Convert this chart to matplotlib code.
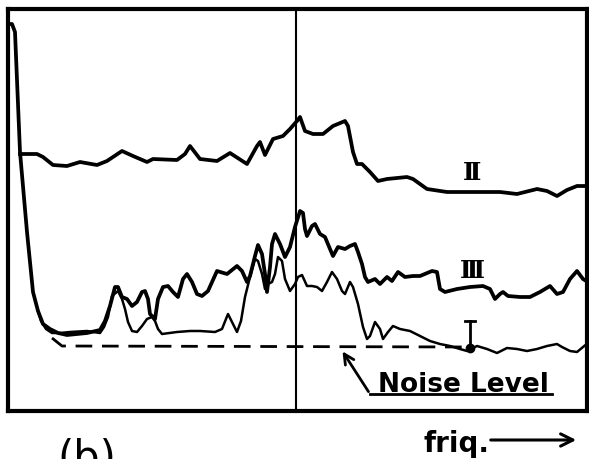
import numpy as np
import matplotlib
matplotlib.use('Agg')
import matplotlib.pyplot as plt

# common start of the sweep: the zero-frequency spike
spike_f = [1, 4, 7, 12, 19, 25, 30]
spike_a = [387, 387, 379, 259, 179, 119, 100]

# trace II (upper)
f_II = [12, 29, 35, 45, 59, 72, 89, 99, 114, 125, 139, 145, 169, 177, 182, 192, 209, 222,
        239, 249, 252, 257, 265, 275, 282, 289, 292, 297, 305, 315, 325, 337, 340, 345,
        349, 354, 362, 370, 379, 399, 405, 419, 439, 465, 492, 509, 529, 539, 549, 559,
        569, 579]
a_II = [257, 257, 254, 246, 245, 249, 246, 250, 260, 255, 249, 252, 251, 257, 265, 252, 250, 258,
        247, 265, 269, 256, 272, 275, 282, 290, 294, 280, 277, 277, 285, 290, 285, 259,
        247, 247, 239, 230, 232, 234, 232, 222, 219, 219, 219, 217, 222, 220, 215, 221,
        225, 225]

# trace III (middle)
f_III = [35, 42, 50, 59, 79, 92, 97, 102, 107, 110, 114, 119, 124, 129, 134, 137, 140, 142,
         147, 150, 155, 160, 165, 170, 175, 179, 184, 189, 194, 200, 209, 219, 229, 234,
         239, 242, 247, 250, 254, 257, 259, 262, 264, 267, 272, 277, 282, 287, 292, 295,
         297, 299, 304, 307, 312, 317, 322, 325, 330, 337, 342, 347, 350, 354, 357, 360,
         367, 372, 379, 384, 390, 397, 405, 412, 424, 429, 432, 437, 449, 462, 475, 482,
         487, 492, 495, 500, 512, 522, 532, 542, 549, 555, 562, 569, 575, 580]
a_III = [87, 82, 78, 76, 78, 81, 90, 105, 124, 124, 114, 112, 105, 109, 119, 120, 112, 97,
         92, 112, 124, 125, 119, 114, 132, 137, 129, 117, 115, 120, 140, 137, 145, 140,
         129, 135, 155, 166, 157, 137, 119, 144, 167, 177, 167, 154, 164, 184, 200, 198,
         182, 175, 185, 187, 177, 174, 162, 155, 164, 162, 165, 167, 159, 147, 134, 129,
         132, 127, 134, 130, 139, 134, 135, 135, 140, 139, 122, 119, 122, 124, 125, 122,
         112, 117, 119, 115, 114, 114, 119, 125, 117, 119, 132, 140, 132, 129]

# trace I (lowest, thin)
f_I = [30, 33, 38, 44, 52, 62, 79, 92, 96, 100, 104, 110, 114, 117, 120, 124, 129, 134,
       139, 144, 147, 150, 154, 169, 182, 192, 207, 214, 220, 225, 229, 233, 237, 242,
       247, 250, 254, 257, 260, 264, 267, 270, 274, 277, 282, 287, 290, 294, 299, 304,
       309, 314, 319, 324, 329, 334, 337, 342, 345, 350, 355, 359, 362, 367, 372, 375,
       380, 385, 392, 402, 412, 422, 432, 442, 452, 459, 469, 479, 489, 499, 509, 519,
       529, 539, 549, 554, 562, 569, 575, 580]
a_I = [100, 90, 82, 78, 78, 79, 80, 78, 84, 94, 115, 120, 112, 102, 89, 80, 79, 85,
       92, 94, 90, 82, 77, 79, 80, 80, 79, 82, 97, 87, 79, 90, 114, 134,
       152, 150, 137, 122, 127, 129, 137, 154, 150, 132, 120, 127, 134, 136, 125, 125,
       124, 120, 129, 139, 132, 120, 117, 129, 124, 107, 84, 72, 75, 89, 82, 72,
       79, 85, 82, 80, 75, 70, 67, 65, 62, 60, 65, 62, 58, 63, 62, 60,
       62, 65, 67, 64, 60, 59, 64, 68]

# noise floor
noise_f = [44, 54, 462]
noise_a = [73, 65, 64]

marker_f = 288  # vertical cursor

fig = plt.figure(figsize=(5.89, 4.6), dpi=100)
ax = fig.add_axes([8 / 589, 48 / 460, 579 / 589, 402 / 460])
ax.set_xlim(0, 579)
ax.set_ylim(0, 402)
ax.set_xticks([])
ax.set_yticks([])
for s in ax.spines.values():
    s.set_linewidth(3.0)
    s.set_color('black')

ax.plot(spike_f + f_III, spike_a + a_III, color='black', lw=2.7, solid_joinstyle='round')
ax.plot(f_II, a_II, color='black', lw=2.7, solid_joinstyle='round')
ax.plot(f_I, a_I, color='black', lw=1.8, solid_joinstyle='round')
ax.plot(noise_f, noise_a, color='black', lw=2.0, ls=(0, (6, 3.5)))
ax.axvline(marker_f, color='black', lw=1.5)

ax.text(464, 239, 'Ⅱ', fontsize=18, fontweight='bold', family='DejaVu Serif',
        ha='center', va='center')
ax.text(464, 141, 'Ⅲ', fontsize=18, fontweight='bold', family='DejaVu Serif',
        ha='center', va='center')

# level marker for trace I
ax.plot([462, 462], [63, 90], color='black', lw=2.0)
ax.plot([457, 467], [90, 90], color='black', lw=2.0)
ax.plot([462], [63], 'o', color='black', ms=6)

# noise level callout
ax.text(370, 20, 'Noise Level', fontsize=19, fontweight='bold', ha='left', va='baseline')
ax.plot([362, 544], [17, 17], color='black', lw=2.0)
ax.annotate('', xy=(333, 62), xytext=(362, 17),
            arrowprops=dict(arrowstyle='->', lw=2.0, color='black', mutation_scale=18))

# frequency axis label
fig.text(423 / 589, 1 - 452 / 460, 'friq.', fontsize=20, fontweight='bold',
         ha='left', va='baseline')
fig.patches.append(matplotlib.patches.FancyArrowPatch(
    (488 / 589, 1 - 441 / 460), (579 / 589, 1 - 441 / 460), transform=fig.transFigure,
    arrowstyle='->', lw=2.2, color='black', mutation_scale=22))

fig.text(57 / 589, 1 - 438 / 460, '(b)', fontsize=30, ha='left', va='top')

fig.savefig('out.png', dpi=100)
